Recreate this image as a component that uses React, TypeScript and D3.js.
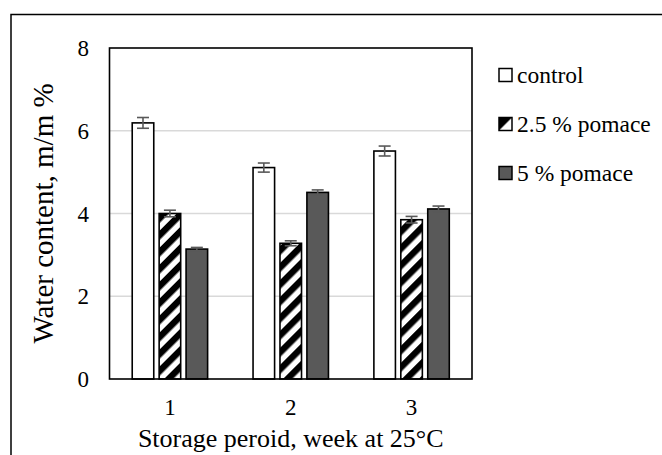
import React from 'react';
import * as d3 from 'd3';

const weeks = ['1', '2', '3'];
const seriesNames = ['control', '2.5 % pomace', '5 % pomace'];
const controlValues = [6.19, 5.11, 5.51];
const controlErrors = [0.13, 0.11, 0.12];
const pomace25Values = [4.0, 3.28, 3.85];
const pomace25Errors = [0.08, 0.06, 0.08];
const pomace5Values = [3.14, 4.51, 4.11];
const pomace5Errors = [0.04, 0.06, 0.07];
const yTicks = [0, 2, 4, 6, 8];

const W = 662;
const H = 455;
const plot = { left: 109.5, right: 472, top: 48, bottom: 379 };
const font = "'Times New Roman', 'Liberation Serif', serif";

const fills = ['#ffffff', 'url(#hatch)', '#595959'];

const App = () => {
  const x = d3.scaleBand<string>()
    .domain(weeks)
    .range([plot.left, plot.right])
    .paddingInner(0.376)
    .paddingOuter(0.188);

  const xSub = d3.scaleBand<string>()
    .domain(seriesNames)
    .range([0, x.bandwidth()])
    .paddingInner(0.2);

  const y = d3.scaleLinear().domain([0, 8]).range([plot.bottom, plot.top]);

  const series = [
    { name: seriesNames[0], values: controlValues, errors: controlErrors },
    { name: seriesNames[1], values: pomace25Values, errors: pomace25Errors },
    { name: seriesNames[2], values: pomace5Values, errors: pomace5Errors },
  ];

  const legendY = [75, 124, 173];

  return (
    <svg width={W} height={H} style={{ position: 'absolute', left: 0, top: 0 }}>
      <defs>
        <pattern id="hatch" patternUnits="userSpaceOnUse" width={12} height={12}
          patternTransform="rotate(45)">
          <rect width={12} height={12} fill="#fff" />
          <rect width={6.5} height={12} fill="#000" />
        </pattern>
        <pattern id="hatchLegend" patternUnits="objectBoundingBox" width={1} height={1}>
          <rect width={13} height={13} fill="#fff" />
          <path d="M0,0 L13,0 L0,13 Z" fill="#000" />
        </pattern>
      </defs>
      <rect width={W} height={H} fill="#fff" />
      {/* outer frame */}
      <path d={`M11,${H + 2} V14.5 H${W + 2}`} fill="none" stroke="#000" strokeWidth={1.5} />

      {/* gridlines */}
      {yTicks.filter(t => t > 0 && t < 8).map(t => (
        <line key={t} x1={plot.left} x2={plot.right} y1={y(t)} y2={y(t)}
          stroke="#d9d9d9" strokeWidth={1.5} />
      ))}

      {/* bars */}
      {series.map((s, si) => weeks.map((w, i) => {
        const bx = (x(w) ?? 0) + (xSub(s.name) ?? 0);
        const bw = xSub.bandwidth();
        const v = s.values[i];
        const e = s.errors[i];
        const cx = bx + bw / 2;
        return (
          <g key={`${si}-${i}`}>
            <rect x={bx} y={y(v)} width={bw} height={y(0) - y(v)}
              fill={fills[si]} stroke="#000" strokeWidth={1.6} />
            <g stroke="#595959" strokeWidth={1.6}>
              <line x1={cx} x2={cx} y1={y(v + e)} y2={y(v - e)} />
              <line x1={cx - 6} x2={cx + 6} y1={y(v + e)} y2={y(v + e)} />
              <line x1={cx - 6} x2={cx + 6} y1={y(v - e)} y2={y(v - e)} />
            </g>
          </g>
        );
      }))}

      {/* plot border */}
      <rect x={plot.left} y={plot.top} width={plot.right - plot.left} height={plot.bottom - plot.top}
        fill="none" stroke="#000" strokeWidth={1.6} />

      {/* y tick labels */}
      {yTicks.map(t => (
        <text key={t} x={89} y={y(t) + 8} textAnchor="end"
          style={{ fontFamily: font, fontSize: 23 }} fill="#000">{t}</text>
      ))}

      {/* x tick labels */}
      {weeks.map(w => (
        <text key={w} x={(x(w) ?? 0) + x.bandwidth() / 2} y={415} textAnchor="middle"
          style={{ fontFamily: font, fontSize: 23 }} fill="#000">{w}</text>
      ))}

      {/* axis titles */}
      <text x={(plot.left + plot.right) / 2} y={447} textAnchor="middle"
        style={{ fontFamily: font, fontSize: 26 }} fill="#000">Storage peroid, week at 25°C</text>
      <text transform={`translate(53,${(plot.top + plot.bottom) / 2}) rotate(-90)`} textAnchor="middle"
        style={{ fontFamily: font, fontSize: 29 }} fill="#000">Water content, m/m %</text>

      {/* legend */}
      {seriesNames.map((n, i) => (
        <g key={n}>
          <rect x={499} y={legendY[i] - 6.5} width={13} height={13}
            fill={i === 1 ? 'url(#hatchLegend)' : fills[i]} stroke="#000" strokeWidth={1.5} />
          <text x={517} y={legendY[i] + 8} style={{ fontFamily: font, fontSize: 23.5 }}
            fill="#000">{n}</text>
        </g>
      ))}
    </svg>
  );
};

export default App;
